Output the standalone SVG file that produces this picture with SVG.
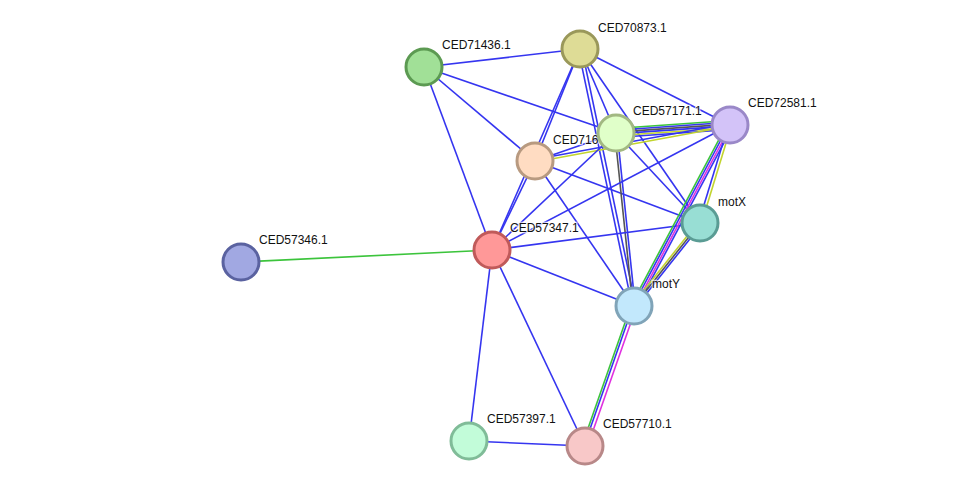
<svg xmlns="http://www.w3.org/2000/svg" width="975" height="491" viewBox="0 0 975 491">
<style>
.e line{stroke-width:1.6;fill:none}
.b{stroke:#3535f0}
.g{stroke:#3cc43c}
.k{stroke:#555555}
.y{stroke:#c2d42e}
.m{stroke:#e030e0}
.n circle{stroke-width:3}
text{font-family:"Liberation Sans",Arial,sans-serif;font-size:12px;fill:#111;paint-order:stroke;stroke:#fff;stroke-width:2.5;stroke-opacity:0.7}
</style>
<rect width="975" height="491" fill="#fff"/>
<g id="connectors" class="e">
<line class="b" x1="424" y1="67" x2="580" y2="49"/>
<line class="b" x1="424" y1="67" x2="492" y2="250"/>
<line class="b" x1="424" y1="67" x2="535" y2="161"/>
<line class="b" x1="424" y1="67" x2="616" y2="133"/>
<line class="b" x1="580" y1="49" x2="535" y2="161"/>
<line class="b" x1="580" y1="49" x2="492" y2="250"/>
<line class="b" x1="535" y1="161" x2="492" y2="250"/>
<line class="b" x1="580" y1="49" x2="616" y2="133"/>
<line class="b" x1="578.3" y1="49.4" x2="632.3" y2="306.4"/>
<line class="b" x1="581.7" y1="48.6" x2="635.7" y2="305.6"/>
<line class="b" x1="580" y1="49" x2="700" y2="223"/>
<line class="b" x1="580" y1="49" x2="730" y2="125"/>
<line class="g" x1="615.7" y1="128.5" x2="729.7" y2="120.5"/>
<line class="b" x1="615.8" y1="130.3" x2="729.8" y2="122.3"/>
<line class="k" x1="615.9" y1="132.1" x2="729.9" y2="124.1"/>
<line class="b" x1="616.1" y1="133.9" x2="730.1" y2="125.9"/>
<line class="y" x1="616.2" y1="135.7" x2="730.2" y2="127.7"/>
<line class="b" x1="616.3" y1="137.5" x2="730.3" y2="129.5"/>
<line class="b" x1="535" y1="161" x2="616" y2="133"/>
<line class="b" x1="534.7" y1="159.5" x2="729.7" y2="123.5"/>
<line class="y" x1="535.2" y1="162" x2="730.2" y2="126"/>
<line class="b" x1="535" y1="161" x2="700" y2="223"/>
<line class="b" x1="535" y1="161" x2="634" y2="306"/>
<line class="k" x1="614.8" y1="133.1" x2="632.8" y2="306.1"/>
<line class="b" x1="617.2" y1="132.9" x2="635.2" y2="305.9"/>
<line class="b" x1="616" y1="133" x2="700" y2="223"/>
<line class="b" x1="492" y1="250" x2="616" y2="133"/>
<line class="b" x1="492" y1="250" x2="730" y2="125"/>
<line class="b" x1="492" y1="250" x2="700" y2="223"/>
<line class="b" x1="492" y1="250" x2="634" y2="306"/>
<line class="g" x1="492" y1="250" x2="241" y2="262"/>
<line class="b" x1="492" y1="250" x2="469" y2="441"/>
<line class="b" x1="492" y1="250" x2="585" y2="446"/>
<line class="b" x1="469" y1="441" x2="585" y2="446"/>
<line class="g" x1="727.4" y1="123.6" x2="631.4" y2="304.6"/>
<line class="b" x1="729.1" y1="124.5" x2="633.1" y2="305.5"/>
<line class="m" x1="730.9" y1="125.5" x2="634.9" y2="306.5"/>
<line class="b" x1="732.6" y1="126.4" x2="636.6" y2="307.4"/>
<line class="b" x1="728.6" y1="124.6" x2="698.6" y2="222.6"/>
<line class="y" x1="731.4" y1="125.4" x2="701.4" y2="223.4"/>
<line class="y" x1="698.4" y1="221.8" x2="632.4" y2="304.8"/>
<line class="k" x1="700" y1="223" x2="634" y2="306"/>
<line class="b" x1="701.6" y1="224.2" x2="635.6" y2="307.2"/>
<line class="g" x1="631.2" y1="305" x2="582.2" y2="445"/>
<line class="b" x1="633.1" y1="305.7" x2="584.1" y2="445.7"/>
<line class="m" x1="636.4" y1="306.8" x2="587.4" y2="446.8"/>
</g>
<g id="CED71436.1" class="n"><circle cx="424" cy="67" r="18" fill="#a1e097" stroke="#5c9a52"/><text x="442" y="49">CED71436.1</text></g>
<g id="CED70873.1" class="n"><circle cx="580" cy="49" r="18" fill="#dedc96" stroke="#9a985a"/><text x="598" y="32">CED70873.1</text></g>
<g id="CED716" class="n"><circle cx="535" cy="161" r="18" fill="#ffdcc2" stroke="#b89a80"/><text x="553" y="144">CED716</text></g>
<g id="CED57171.1" class="n"><circle cx="616" cy="133" r="18" fill="#e0ffc9" stroke="#a2b882"/><text x="633" y="115">CED57171.1</text></g>
<g id="CED72581.1" class="n"><circle cx="730" cy="125" r="18" fill="#d3c3f8" stroke="#9a88c8"/><text x="748" y="107">CED72581.1</text></g>
<g id="motX" class="n"><circle cx="700" cy="223" r="18" fill="#98ded4" stroke="#5a9c94"/><text x="718" y="206">motX</text></g>
<g id="CED57347.1" class="n"><circle cx="492" cy="250" r="18" fill="#ff9898" stroke="#c05a5a"/><text x="510" y="232">CED57347.1</text></g>
<g id="CED57346.1" class="n"><circle cx="241" cy="262" r="18" fill="#a1a8e2" stroke="#5a62a0"/><text x="259" y="244">CED57346.1</text></g>
<g id="motY" class="n"><circle cx="634" cy="306" r="18" fill="#c2e8fc" stroke="#80a4b8"/><text x="652" y="288">motY</text></g>
<g id="CED57397.1" class="n"><circle cx="469" cy="441" r="18" fill="#c2fcd9" stroke="#80bc98"/><text x="487" y="423">CED57397.1</text></g>
<g id="CED57710.1" class="n"><circle cx="585" cy="446" r="18" fill="#f8c8c8" stroke="#b88888"/><text x="603" y="428">CED57710.1</text></g>
</svg>
